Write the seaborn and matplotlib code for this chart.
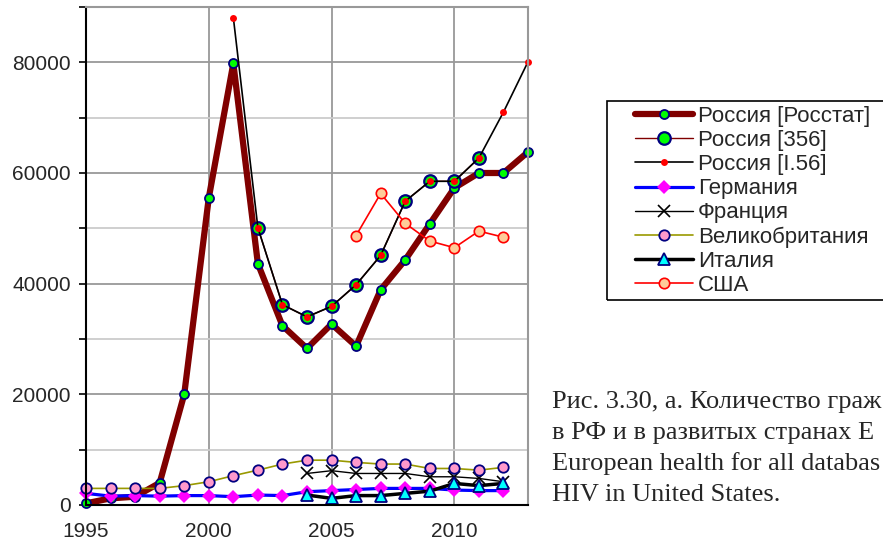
import matplotlib
matplotlib.use('Agg')
import matplotlib.pyplot as plt
import seaborn as sns
from matplotlib.patches import Rectangle
from matplotlib.ticker import MultipleLocator

# --- data ---
years_rosstat = list(range(1995, 2014))
rosstat = [300, 1200, 1500, 4000, 20000, 55500, 79800, 43600, 32400, 28300,
           32700, 28700, 38900, 44300, 50800, 57300, 60000, 60000, 63800]

years_356 = list(range(2002, 2012))
ru_356 = [50100, 36200, 34000, 35900, 39800, 45100, 54900, 58500, 58500, 62700]

years_i56 = list(range(2001, 2014))
ru_i56 = [88100, 50100, 36200, 34000, 35900, 39800, 45100, 54900, 58500,
          58500, 62700, 71000, 80100]

years_de = list(range(1995, 2013))
germany = [2100, 1600, 1700, 1600, 1700, 1700, 1500, 1800, 1700, 2400,
           2600, 2800, 3000, 3000, 3000, 2700, 2600, 2600]

years_fr = list(range(2004, 2013))
france = [5700, 6200, 5700, 5700, 5700, 5100, 5100, 4800, 4200]

years_uk = list(range(1995, 2013))
uk = [3000, 3000, 3000, 3000, 3500, 4200, 5300, 6300, 7400, 8100,
      8100, 7700, 7400, 7400, 6600, 6600, 6300, 6800]

years_it = list(range(2004, 2013))
italy = [1800, 1200, 1700, 1700, 2100, 2500, 3900, 3500, 3900]

years_us = list(range(2006, 2013))
usa = [48700, 56300, 50900, 47700, 46500, 49500, 48400]

# caption as far as it is visible in the picture
caption = ["Рис. 3.30, а. Количество граж",
           "в РФ и в развитых странах Е",
           "European health for all databas",
           "HIV in United States."]

sns.set_style('white')
plt.rcParams['font.family'] = ['Liberation Sans', 'DejaVu Sans']

fig = plt.figure(figsize=(8.83, 5.44), dpi=100)
ax = fig.add_axes([86 / 883, 39 / 544, 442 / 883, 498 / 544])

navy = '#000080'

sns.lineplot(x=years_rosstat, y=rosstat, ax=ax, color='#800000', linewidth=4.5,
             marker='o', markersize=6.5, markerfacecolor='#00ff00',
             markeredgecolor=navy, markeredgewidth=1.3, clip_on=False,
             solid_capstyle='round', label='Россия [Росстат]')
sns.lineplot(x=years_356, y=ru_356, ax=ax, color='#800000', linewidth=1,
             marker='o', markersize=9, markerfacecolor='#00ff00',
             markeredgecolor=navy, markeredgewidth=1.6, clip_on=False,
             label='Россия [356]')
sns.lineplot(x=years_i56, y=ru_i56, ax=ax, color='black', linewidth=1.2,
             marker='o', markersize=5, markerfacecolor='#ff0000',
             markeredgecolor='#ff0000', markeredgewidth=0, clip_on=False,
             label='Россия [I.56]')
sns.lineplot(x=years_de, y=germany, ax=ax, color='#0000ff', linewidth=2.3,
             marker='D', markersize=7, markerfacecolor='#ff00ff',
             markeredgecolor='#ff00ff', markeredgewidth=0, clip_on=False,
             label='Германия')
sns.lineplot(x=years_fr, y=france, ax=ax, color='black', linewidth=1,
             marker='x', markersize=9, markeredgecolor='black',
             markeredgewidth=1.2, clip_on=False, label='Франция')
sns.lineplot(x=years_uk, y=uk, ax=ax, color='#999900', linewidth=1.2,
             marker='o', markersize=7.5, markerfacecolor='#ff99cc',
             markeredgecolor=navy, markeredgewidth=1.3, clip_on=False,
             label='Великобритания')
sns.lineplot(x=years_it, y=italy, ax=ax, color='black', linewidth=2.5,
             marker='^', markersize=8, markerfacecolor='#00ffff',
             markeredgecolor=navy, markeredgewidth=1.3, clip_on=False,
             label='Италия')
sns.lineplot(x=years_us, y=usa, ax=ax, color='#ff0000', linewidth=1.2,
             marker='o', markersize=7.5, markerfacecolor='#ffcc99',
             markeredgecolor='#ff0000', markeredgewidth=1.2, clip_on=False,
             label='США')

ax.set_xlim(1995, 2013)
ax.set_ylim(0, 90000)
ax.xaxis.set_major_locator(MultipleLocator(5))
ax.yaxis.set_major_locator(MultipleLocator(20000))
ax.yaxis.set_minor_locator(MultipleLocator(10000))
ax.set_xlabel('')
ax.set_ylabel('')

ax.grid(True, which='major', color='#999999', linewidth=1.3)
ax.grid(True, which='minor', axis='y', color='#cccccc', linewidth=1.3)
ax.set_axisbelow(True)

for side in ['left', 'bottom']:
    ax.spines[side].set_color('black')
    ax.spines[side].set_linewidth(1.5)
for side in ['top', 'right']:
    ax.spines[side].set_color('#999999')
    ax.spines[side].set_linewidth(1.5)

ax.tick_params(axis='y', which='both', direction='out', left=True,
               length=5, width=1.2, color='black', labelsize=15, pad=6)
ax.tick_params(axis='x', which='major', direction='out', bottom=True,
               length=0, labelsize=15, pad=12)

# legend without its own frame; the box is drawn separately (it runs off the right edge)
leg = ax.legend(loc='upper left', bbox_to_anchor=(635 / 883, 1 - 106 / 544),
                bbox_transform=fig.transFigure, frameon=False, handlelength=2.6,
                handletextpad=0.22, labelspacing=0.14, borderpad=0,
                borderaxespad=0, prop={'size': 16})
fig.patches.append(Rectangle((607 / 883, 1 - 300 / 544), 400 / 883, 199 / 544,
                             transform=fig.transFigure, fill=False,
                             edgecolor='black', linewidth=1.2))

for i, line in enumerate(caption):
    fig.text(552 / 883, 1 - (408 + i * 31) / 544, line, ha='left',
             va='baseline', fontsize=19, family=['Liberation Serif', 'DejaVu Serif'])

fig.savefig('out.png', dpi=100)
